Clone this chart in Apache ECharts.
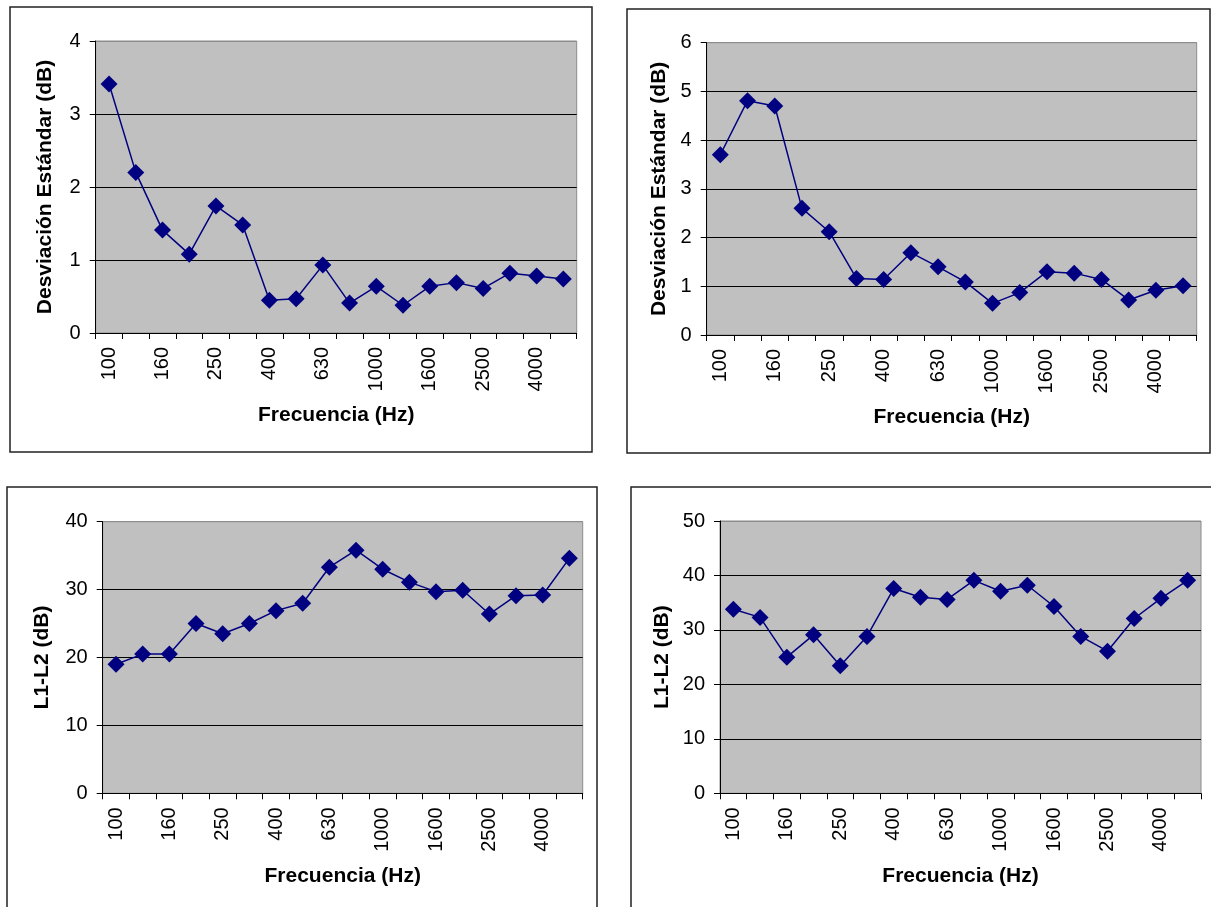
<!DOCTYPE html>
<html>
<head>
<meta charset="utf-8">
<script src="https://cdn.jsdelivr.net/npm/echarts@6/dist/echarts.min.js"></script>
<style>
  html, body { margin: 0; padding: 0; background: #ffffff; }
  #chart { width: 1211px; height: 907px; }
</style>
</head>
<body>
<div id="chart"></div>
<script>
// Frequency bands (Hz)
const categories = ['100','125','160','200','250','315','400','500','630','800','1000','1250','1600','2000','2500','3150','4000','5000'];

// Standard deviation (dB) – top left / top right
const desvA = [3.41, 2.20, 1.41, 1.08, 1.74, 1.48, 0.45, 0.47, 0.93, 0.41, 0.64, 0.38, 0.64, 0.69, 0.61, 0.82, 0.78, 0.74];
const desvB = [3.70, 4.81, 4.70, 2.60, 2.12, 1.16, 1.14, 1.69, 1.40, 1.09, 0.65, 0.87, 1.30, 1.27, 1.14, 0.72, 0.92, 1.01];

// L1-L2 (dB) – bottom left / bottom right
const difA = [19.0, 20.5, 20.5, 25.0, 23.5, 25.0, 26.9, 28.0, 33.3, 35.8, 33.0, 31.1, 29.7, 29.9, 26.4, 29.1, 29.2, 34.6];
const difB = [33.8, 32.3, 25.0, 29.1, 23.4, 28.8, 37.6, 36.0, 35.6, 39.1, 37.1, 38.2, 34.3, 28.8, 26.1, 32.1, 35.8, 39.1];

const xTitle = 'Frecuencia (Hz)';
const yTitleDesv = 'Desviación Estándar (dB)';
const yTitleDif = 'L1-L2 (dB)';

const FONT = '"Liberation Sans", Arial, sans-serif';
const NAVY = '#000080';

const panels = [
  { data: desvA, yName: yTitleDesv, max: 4, interval: 1, grid: { left: 95.7, top: 41, width: 481, height: 292 }, nameGapY: 40, box: [10, 7, 582, 445] },
  { data: desvB, yName: yTitleDesv, max: 6, interval: 1, grid: { left: 706.7, top: 42.7, width: 490, height: 292.3 }, nameGapY: 37, box: [627, 9, 583, 444] },
  { data: difA, yName: yTitleDif, max: 40, interval: 10, grid: { left: 102.7, top: 521.7, width: 480, height: 271.6 }, nameGapY: 50, box: [7, 487, 590, 440] },
  { data: difB, yName: yTitleDif, max: 50, interval: 10, grid: { left: 720, top: 521, width: 481, height: 272.3 }, nameGapY: 47, box: [631, 487, 600, 440] }
];

const grids = [], xAxes = [], yAxes = [], series = [], graphics = [];
panels.forEach((p, i) => {
  grids.push(Object.assign({ show: true, backgroundColor: '#C0C0C0', borderColor: '#8c8c8c', borderWidth: 1 }, p.grid));
  xAxes.push({
    type: 'category', gridIndex: i, data: categories, boundaryGap: true,
    name: xTitle, nameLocation: 'middle', nameGap: 72,
    nameTextStyle: { fontFamily: FONT, fontSize: 21, fontWeight: 'bold', color: '#000' },
    axisLine: { show: true, lineStyle: { color: '#000', width: 1 } },
    axisTick: { show: true, interval: 0, length: 6, alignWithLabel: false, lineStyle: { color: '#000' } },
    axisLabel: { interval: 1, rotate: 90, margin: 14, fontFamily: FONT, fontSize: 20, color: '#000' },
    splitLine: { show: false }
  });
  const nLines = p.max / p.interval + 1;
  const lineColors = [];
  for (let k = 0; k < nLines; k++) lineColors.push(k === nLines - 1 ? '#8c8c8c' : '#000');
  yAxes.push({
    type: 'value', gridIndex: i, min: 0, max: p.max, interval: p.interval,
    name: p.yName, nameLocation: 'middle', nameGap: p.nameGapY,
    nameTextStyle: { fontFamily: FONT, fontSize: 21, fontWeight: 'bold', color: '#000' },
    axisLine: { show: true, lineStyle: { color: '#000', width: 1 } },
    axisTick: { show: true, length: 6, lineStyle: { color: '#000' } },
    axisLabel: { margin: 15, fontFamily: FONT, fontSize: 20, color: '#000' },
    splitLine: { show: true, lineStyle: { color: lineColors, width: 1 } }
  });
  series.push({
    type: 'line', xAxisIndex: i, yAxisIndex: i, data: p.data,
    symbol: 'diamond', symbolSize: 17, showAllSymbol: true,
    lineStyle: { color: NAVY, width: 1.5 },
    itemStyle: { color: NAVY },
    animation: false
  });
  graphics.push({
    type: 'rect', silent: true,
    shape: { x: p.box[0], y: p.box[1], width: p.box[2], height: p.box[3] },
    style: { fill: 'none', stroke: '#222', lineWidth: 1.5 }
  });
});

const chart = echarts.init(document.getElementById('chart'), null, { renderer: 'canvas' });
chart.setOption({
  animation: false,
  backgroundColor: '#ffffff',
  grid: grids, xAxis: xAxes, yAxis: yAxes, series: series,
  graphic: graphics
});
</script>
</body>
</html>
